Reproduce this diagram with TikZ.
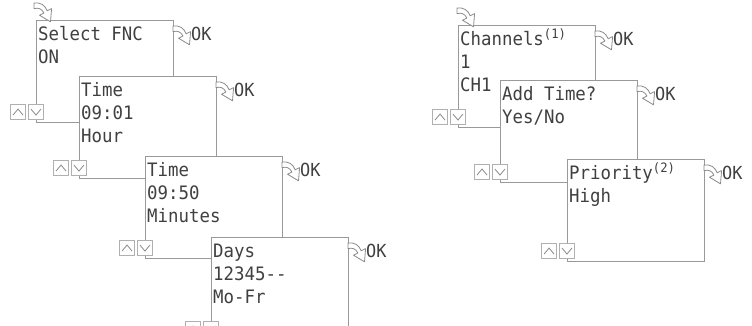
\documentclass[tikz,border=0pt]{standalone}
\usepackage{fontspec}
\usepackage{tikz}
\usetikzlibrary{positioning}
\newfontfamily\lcdfont[FakeStretch=0.94]{DejaVu Sans Mono}
\newcommand{\lcdsp}{\hspace*{0.566em}}
\definecolor{ink}{HTML}{404040}
\definecolor{frame}{HTML}{999999}
\definecolor{keyline}{HTML}{B0B0B0}
\definecolor{hookline}{HTML}{8A8A8A}

\begin{document}
\begin{tikzpicture}[x=1pt,y=-1pt,
  screen/.style={draw=frame,fill=white,line width=1pt,minimum width=137pt,minimum height=102pt,
                 anchor=north west,inner sep=0pt},
  lcd/.style={font=\lcdfont\fontsize{18.5}{23}\selectfont,text=ink,anchor=base west,inner sep=0pt,
              align=left,text width=130pt},
  key/.style={draw=keyline,fill=white,line width=0.9pt,minimum width=15pt,minimum height=15pt,inner sep=0pt},
  upkey/.style={key,path picture={\draw[hookline,line width=0.8pt]
      ([shift={(-5,3)}]path picture bounding box.center) -- ++(5,-6) -- ++(5,6);}},
  downkey/.style={key,path picture={\draw[hookline,line width=0.8pt]
      ([shift={(-5,-3)}]path picture bounding box.center) -- ++(5,6) -- ++(5,-6);}},
  oktag/.style={font=\lcdfont\fontsize{18}{18}\selectfont,text=ink,inner sep=0pt,anchor=west},
  hook/.pic={\draw[hookline,fill=white,line width=0.8pt,line join=round,scale=1.1]
      (0,1) .. controls (6,0) and (10,3) .. (12,8) -- (16,6) -- (15,18) -- (5,12) -- (9,10)
      .. controls (7,6) and (4,5) .. (0,6) -- cycle;}]

  \useasboundingbox (0,0) rectangle (752,325);
  \clip (0,0) rectangle (752,325);

  % timer menu
  \node[screen] (s1) at (36,20) {};
  \node[lcd] (t1) at ([shift={(2,20)}]s1.north west) {Select\lcdsp FNC\\ON};
  \node[screen] (s2) at (79,76) {};
  \node[lcd] (t2) at ([shift={(2,20)}]s2.north west) {Time\\09:01\\Hour};
  \node[screen] (s3) at (145,156) {};
  \node[lcd] (t3) at ([shift={(2,20)}]s3.north west) {Time\\09:50\\Minutes};
  \node[screen] (s4) at (211,237) {};
  \node[lcd] (t4) at ([shift={(2,20)}]s4.north west) {Days\\12345--\\Mo-Fr};

  % channel menu
  \node[screen] (r1) at (458,25) {};
  \node[lcd] (u1) at ([shift={(2,20)}]r1.north west) {Channels\textsuperscript{(1)}\\1\\CH1};
  \node[screen] (r2) at (500,80) {};
  \node[lcd] (u2) at ([shift={(2,20)}]r2.north west) {Add\lcdsp Time?\\Yes/No};
  \node[screen] (r3) at (567,159) {};
  \node[lcd] (u3) at ([shift={(2,20)}]r3.north west) {Priority\textsuperscript{(2)}\\High};

  % entry hooks
  \pic at ([shift={(-2,-18)}]s1.north west) {hook};
  \pic at ([shift={(-1,-18)}]r1.north west) {hook};

  % keys and OK per screen
  \foreach \s in {s1,s2,s3,s4,r1,r2,r3}{
    \node[upkey,anchor=south east] (\s-up) at ([shift={(-10,-3)}]\s.south west) {};
    \node[downkey,anchor=south west] (\s-dn) at ([shift={(-8,-3)}]\s.south west) {};
    \pic at ([shift={(-1,5)}]\s.north east) {hook};
    \node[oktag] (\s-ok) at ([shift={(17,14)}]\s.north east) {OK};
  }
\end{tikzpicture}
\end{document}
